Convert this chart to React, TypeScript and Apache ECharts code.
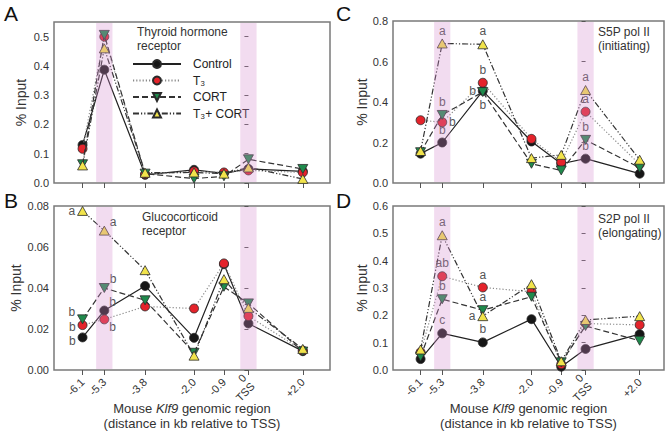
import { useEffect, useRef } from "react";
import * as echarts from "echarts";

// ---------- data ----------
const X_VALUES = [-6.1, -5.3, -3.8, -2.0, -0.9, 0, 2.0];
const X_LABELS = ["-6.1", "-5.3", "-3.8", "-2.0", "-0.9", "0\nTSS", "+2.0"];
const BANDS = [
  [-5.6, -5.0],
  [-0.3, 0.3],
];

const SERIES_NAMES = ["Control", "T\u2083", "CORT", "T\u2083+ CORT"];

const A_Y_TICKS = [0, 0.1, 0.2, 0.3, 0.4, 0.5];
const B_Y_TICKS = [0, 0.02, 0.04, 0.06, 0.08];
const C_Y_TICKS = [0, 0.2, 0.4, 0.6, 0.8];
const D_Y_TICKS = [0, 0.1, 0.2, 0.3, 0.4, 0.5, 0.6];

const A_control = [0.13, 0.387, 0.028, 0.045, 0.033, 0.048, 0.04];
const A_t3 = [0.117, 0.5, 0.03, 0.04, 0.036, 0.043, 0.036];
const A_cort = [0.064, 0.506, 0.032, 0.015, 0.023, 0.081, 0.048];
const A_t3cort = [0.06, 0.46, 0.035, 0.036, 0.032, 0.053, 0.014];

const B_control = [0.0159, 0.029, 0.041, 0.0157, 0.0516, 0.0227, 0.0092];
const B_t3 = [0.0219, 0.0247, 0.031, 0.03, 0.052, 0.0263, 0.0095];
const B_cort = [0.0247, 0.04, 0.034, 0.0084, 0.0406, 0.0325, 0.009];
const B_t3cort = [0.0776, 0.068, 0.0487, 0.007, 0.0443, 0.0303, 0.0103];

const C_control = [0.145, 0.2, 0.455, 0.205, 0.095, 0.12, 0.046];
const C_t3 = [0.31, 0.3, 0.495, 0.218, 0.103, 0.352, 0.092];
const C_cort = [0.152, 0.336, 0.449, 0.095, 0.062, 0.213, 0.075];
const C_t3cort = [0.158, 0.689, 0.685, 0.123, 0.139, 0.459, 0.115];

const D_control = [0.04, 0.134, 0.101, 0.186, 0.012, 0.077, 0.131];
const D_t3 = [0.065, 0.343, 0.302, 0.286, 0.021, 0.17, 0.165];
const D_cort = [0.049, 0.259, 0.219, 0.268, 0.028, 0.161, 0.107];
const D_t3cort = [0.075, 0.493, 0.197, 0.314, 0.032, 0.183, 0.197];

// significance letters (null = none)
const B_controlSig = ["b", "b", null, null, null, null, null];
const B_t3Sig = ["b", "b", null, null, null, null, null];
const B_cortSig = ["b", "b", null, null, null, null, null];
const B_t3cortSig = ["a", "a", null, null, null, null, null];

const C_controlSig = [null, "b", "b", null, null, "b", null];
const C_t3Sig = [null, "b", "b", null, null, "a", null];
const C_cortSig = [null, "b", "b", null, null, "b", null];
const C_t3cortSig = [null, "a", "a", null, null, "a", null];

const D_controlSig = [null, "c", "b", null, null, null, null];
const D_t3Sig = [null, "ab", "a", null, null, null, null];
const D_cortSig = [null, "b", "a", null, null, null, null];
const D_t3cortSig = [null, "a", "a", null, null, null, null];

// ---------- styling ----------
const FONT = "'Liberation Sans', Arial, Helvetica, sans-serif";
const DOWN_TRI = "path://M0,0 L10,0 L5,9 Z";

const SERIES_STYLE = [
  { symbol: "circle", size: 9, color: "#161616", line: { type: "solid", color: "#222", width: 1.2 } },
  { symbol: "circle", size: 9, color: "#e4232b", line: { type: [1.2, 2], color: "#8a8a8a", width: 1.2 } },
  { symbol: DOWN_TRI, size: [10, 9], color: "#1f8a4c", line: { type: [6, 3], color: "#333", width: 1.2 } },
  { symbol: "triangle", size: [10, 9], color: "#f1e34b", line: { type: [6, 2, 1.2, 2, 1.2, 2], color: "#333", width: 1.2 } },
];

// label positions for letters: key -> label style
const POS: Record<string, any> = {
  top: { position: "top", distance: 2 },
  bottom: { position: "bottom", distance: 2 },
  left: { position: "left", distance: 2 },
  lup: { position: "left", distance: 2, offset: [0, -7] },
  lmid: { position: "left", distance: 2, offset: [0, 2] },
  ldown: { position: "left", distance: 2, offset: [0, 4] },
  right: { position: "right", distance: 2 },
  tr: { position: "right", distance: 0, offset: [0, -9] },
  br: { position: "right", distance: 0, offset: [0, 8] },
};

const B_POS = [
  ["ldown", "tr"],
  ["lmid", "br"],
  ["lup", "tr"],
  ["left", "tr"],
];
const C_POS = [
  [null, "top", "left", null, null, "top"],
  [null, "right", "top", null, null, "top"],
  [null, "top", "bottom", null, null, "top"],
  [null, "top", "top", null, null, "top"],
];
const D_POS = [
  [null, "top", "top"],
  [null, "top", "top"],
  [null, "top", "top"],
  [null, "top", "left"],
];

const PANELS = [
  {
    letter: "A",
    grid: { left: 54, top: 22, width: 276, height: 161 },
    xMin: -7.15, xMax: 3.0, yMax: 0.55, yTicks: A_Y_TICKS, dec: 1, showX: false, nameGap: 26,
    series: [A_control, A_t3, A_cort, A_t3cort],
    sig: null as any, pos: null as any,
    title: "Thyroid hormone\nreceptor", titleX: 137, titleY: 25,
    letterX: 4, letterY: 3,
  },
  {
    letter: "B",
    grid: { left: 54, top: 206, width: 276, height: 164 },
    xMin: -7.15, xMax: 3.0, yMax: 0.08, yTicks: B_Y_TICKS, dec: 2, showX: true, nameGap: 31,
    series: [B_control, B_t3, B_cort, B_t3cort],
    sig: [B_controlSig, B_t3Sig, B_cortSig, B_t3cortSig], pos: B_POS,
    title: "Glucocorticoid\nreceptor", titleX: 142, titleY: 210,
    letterX: 4, letterY: 190,
  },
  {
    letter: "C",
    grid: { left: 393, top: 21, width: 271, height: 162 },
    xMin: -7.12, xMax: 2.9, yMax: 0.8, yTicks: C_Y_TICKS, dec: 1, showX: false, nameGap: 24,
    series: [C_control, C_t3, C_cort, C_t3cort],
    sig: [C_controlSig, C_t3Sig, C_cortSig, C_t3cortSig], pos: C_POS,
    title: "S5P pol II\n(initiating)", titleX: 598, titleY: 25,
    letterX: 336, letterY: 3,
  },
  {
    letter: "D",
    grid: { left: 393, top: 206, width: 271, height: 164 },
    xMin: -7.12, xMax: 2.9, yMax: 0.6, yTicks: D_Y_TICKS, dec: 1, showX: true, nameGap: 24,
    series: [D_control, D_t3, D_cort, D_t3cort],
    sig: [D_controlSig, D_t3Sig, D_cortSig, D_t3cortSig], pos: D_POS,
    title: "S2P pol II\n(elongating)", titleX: 598, titleY: 212,
    letterX: 336, letterY: 190,
  },
];

function xLabel(v: number) {
  for (let i = 0; i < X_VALUES.length; i++) {
    if (Math.abs(X_VALUES[i] - v) < 1e-6) return X_LABELS[i];
  }
  return "";
}

function buildOption() {
  const grids: any[] = [];
  const xAxes: any[] = [];
  const yAxes: any[] = [];
  const series: any[] = [];
  const graphics: any[] = [];

  PANELS.forEach((p, i) => {
    grids.push({
      ...p.grid,
      show: true,
      borderColor: "#7a7a7a",
      borderWidth: 1.5,
      backgroundColor: "transparent",
      containLabel: false,
      outerBoundsMode: "none",
    });
    xAxes.push({
      type: "value",
      gridIndex: i,
      min: p.xMin,
      max: p.xMax,
      axisLine: { show: false },
      splitLine: { show: false },
      axisTick: {
        show: true,
        inside: false,
        length: 5,
        customValues: X_VALUES,
        lineStyle: { color: "#555", width: 1 },
      },
      axisLabel: {
        show: p.showX,
        customValues: X_VALUES,
        rotate: 45,
        fontSize: 11,
        color: "#333",
        fontFamily: FONT,
        margin: 10,
        lineHeight: 12,
        formatter: (v: number) => xLabel(v),
      },
      name: p.showX ? "Mouse {i|Klf9} genomic region\n(distance in kb relative to TSS)" : "",
      nameLocation: "middle",
      nameGap: 31,
      nameMoveOverlap: false,
      nameTextStyle: {
        fontSize: 13,
        color: "#333",
        fontFamily: FONT,
        lineHeight: 15,
        rich: { i: { fontSize: 13, fontStyle: "italic", color: "#333", fontFamily: FONT } },
      },
    });
    yAxes.push({
      type: "value",
      gridIndex: i,
      min: 0,
      max: p.yMax,
      axisLine: { show: false },
      splitLine: { show: false },
      axisTick: {
        show: true,
        inside: false,
        length: 4,
        customValues: p.yTicks,
        lineStyle: { color: "#555", width: 1 },
      },
      axisLabel: {
        customValues: p.yTicks,
        fontSize: 11,
        color: "#333",
        fontFamily: FONT,
        margin: 5,
        formatter: (v: number) => v.toFixed(p.dec),
      },
      name: "% Input",
      nameLocation: "middle",
      nameGap: p.nameGap,
      nameTextStyle: { fontSize: 14, color: "#333", fontFamily: FONT },
    });

    p.series.forEach((vals, k) => {
      const st = SERIES_STYLE[k];
      const sigs = p.sig ? p.sig[k] : null;
      const poss = p.pos ? p.pos[k] : null;
      series.push({
        type: "line",
        name: SERIES_NAMES[k],
        xAxisIndex: i,
        yAxisIndex: i,
        z: 2 + k,
        symbol: st.symbol,
        symbolSize: st.size,
        itemStyle: { color: st.color, borderColor: "#2a2a2a", borderWidth: 0.8 },
        lineStyle: { ...st.line },
        emphasis: { disabled: true },
        data: X_VALUES.map((x, j) => {
          const item: any = { value: [x, vals[j]] };
          const s = sigs ? sigs[j] : null;
          if (s) {
            const key = (poss && poss[j]) || "top";
            item.label = {
              show: true,
              formatter: s,
              fontSize: 12,
              lineHeight: 12,
              color: "#555",
              fontFamily: FONT,
              ...POS[key],
            };
          }
          return item;
        }),
      });
    });

    // pink shaded regions drawn through the axis scales
    series.push({
      type: "custom",
      xAxisIndex: i,
      yAxisIndex: i,
      z: 20,
      silent: true,
      data: BANDS,
      encode: { x: [0, 1] },
      renderItem: (params: any, api: any) => {
        const cs = params.coordSys;
        const p0 = api.coord([api.value(0), 0]);
        const p1 = api.coord([api.value(1), 0]);
        return {
          type: "rect",
          shape: { x: p0[0], y: cs.y + 1, width: p1[0] - p0[0], height: cs.height - 2 },
          style: { fill: "rgba(212,140,206,0.3)" },
        };
      },
    });

    graphics.push({
      type: "text",
      left: p.letterX,
      top: p.letterY,
      style: { text: p.letter, font: `21px ${FONT}`, fill: "#111" },
    });
    graphics.push({
      type: "text",
      left: p.titleX,
      top: p.titleY,
      style: { text: p.title, font: `12px ${FONT}`, fill: "#333", lineHeight: 14 },
    });
  });

  return {
    animation: false,
    backgroundColor: "#fff",
    textStyle: { fontFamily: FONT },
    grid: grids,
    xAxis: xAxes,
    yAxis: yAxes,
    series,
    graphic: graphics,
    legend: {
      data: SERIES_NAMES,
      orient: "vertical",
      left: 132,
      top: 58,
      padding: 0,
      itemWidth: 48,
      itemHeight: 10,
      itemGap: 4.5,
      selectedMode: false,
      formatter: (name: string) => `{s|}${name}`,
      textStyle: {
        fontSize: 12,
        lineHeight: 12,
        color: "#222",
        fontFamily: FONT,
        rich: { s: { width: 7 } },
      },
    },
  };
}

export default function App() {
  const ref = useRef<HTMLDivElement>(null);
  useEffect(() => {
    if (!ref.current) return;
    const chart = echarts.init(ref.current, undefined, { renderer: "svg" });
    chart.setOption(buildOption() as any);
    return () => chart.dispose();
  }, []);
  return (
    <div
      ref={ref}
      style={{ position: "fixed", left: 0, top: 0, width: 667, height: 434, background: "#fff" }}
    />
  );
}
